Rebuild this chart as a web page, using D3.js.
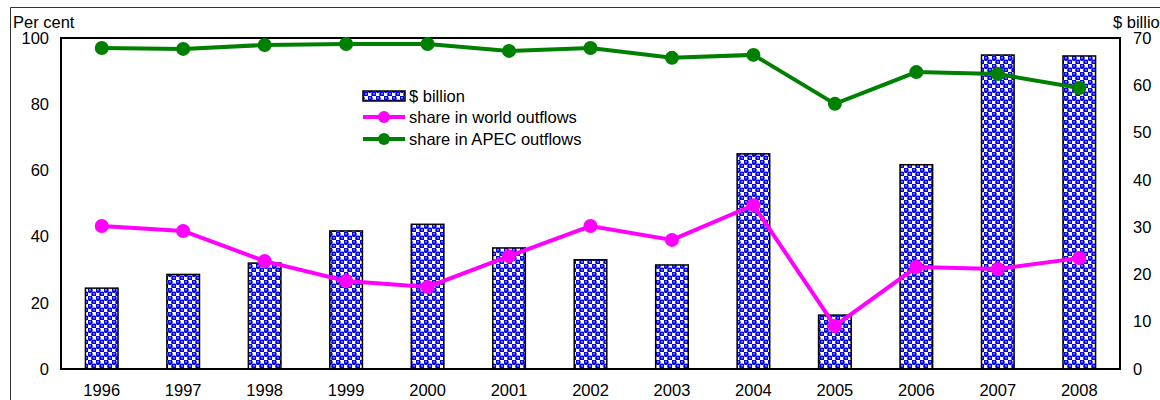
<!DOCTYPE html>
<html><head><meta charset="utf-8">
<script src="https://cdn.jsdelivr.net/npm/d3@7"></script>
<style>body{margin:0;background:#fff}svg{display:block;font-family:"Liberation Sans",Arial,sans-serif}</style>
</head><body><svg id="c" width="1160" height="400"></svg>
<script>
const years = ["1996","1997","1998","1999","2000","2001","2002","2003","2004","2005","2006","2007","2008"];
const billions = [17.1,20.0,22.4,29.2,30.6,25.6,23.1,22.0,45.5,11.4,43.2,66.4,66.2];
const worldShare = [43.2,41.7,32.6,26.6,24.8,34.1,43.2,39.0,49.5,13.0,30.8,30.2,33.5];
const apecShare = [97.0,96.7,97.9,98.2,98.2,96.1,97.0,94.0,94.9,80.1,89.7,89.1,84.9];
const leftTicks = [0,20,40,60,80,100];
const rightTicks = [0,10,20,30,40,50,60,70];
const seriesNames = ["$ billion","share in world outflows","share in APEC outflows"];

const FS = 16.5;
const svg = d3.select("#c");
const m = {l:61, t:38, r:1120, b:369};
const defs = svg.append("defs");
const pat = defs.append("pattern").attr("id","chk").attr("patternUnits","userSpaceOnUse")
  .attr("width",8).attr("height",8);
pat.append("rect").attr("width",8).attr("height",8).attr("fill","#ffffc0");
pat.append("rect").attr("x",0).attr("y",0).attr("width",4).attr("height",4).attr("fill","#0000ff");
pat.append("rect").attr("x",4).attr("y",4).attr("width",4).attr("height",4).attr("fill","#0000ff");
pat.append("circle").attr("cx",2).attr("cy",2.3).attr("r",2.7).attr("fill","#0000ff");
pat.append("circle").attr("cx",6).attr("cy",6.3).attr("r",2.7).attr("fill","#0000ff");
pat.append("rect").attr("x",1).attr("y",1.5).attr("width",2).attr("height",0.8).attr("fill","#ffffc0");
pat.append("rect").attr("x",5).attr("y",5.5).attr("width",2).attr("height",0.8).attr("fill","#ffffc0");

// outer frame
svg.append("path").attr("d","M10.5,400 V7.5 H1160").attr("fill","none").attr("stroke","#333").attr("stroke-width",1);

const x = d3.scaleBand().domain(years).range([m.l,m.r]).paddingInner(0.6).paddingOuter(0.3);
const xc = d => x(d) + x.bandwidth()/2;
const yL = d3.scaleLinear().domain([0,100]).range([m.b,m.t]);
const yR = d3.scaleLinear().domain([0,70]).range([m.b,m.t]);

// bars
svg.append("g").selectAll("rect").data(years).join("rect")
  .attr("x", d=>x(d)).attr("width", x.bandwidth())
  .attr("y",(d,i)=>yR(billions[i])).attr("height",(d,i)=>m.b-yR(billions[i]))
  .attr("fill","url(#chk)").attr("stroke","#000").attr("stroke-width",1.5);

// axes
const axL = svg.append("g").attr("transform",`translate(${m.l},0)`)
  .call(d3.axisLeft(yL).tickValues(leftTicks).tickSize(0).tickPadding(12));
const axR = svg.append("g").attr("transform",`translate(${m.r},0)`)
  .call(d3.axisRight(yR).tickValues(rightTicks).tickSize(0).tickPadding(13));
const axB = svg.append("g").attr("transform",`translate(0,${m.b})`)
  .call(d3.axisBottom(x).tickSize(0).tickPadding(15));
[axL,axR,axB].forEach(a=>{a.select(".domain").remove(); a.selectAll("text").attr("font-size",FS).attr("fill","#000").attr("font-family","Liberation Sans, Arial, sans-serif");});

// plot frame
svg.append("rect").attr("x",m.l).attr("y",m.t).attr("width",m.r-m.l).attr("height",m.b-m.t)
  .attr("fill","none").attr("stroke","#000").attr("stroke-width",2);

// lines
function drawLine(vals,color){
  const line = d3.line().x((d,i)=>xc(years[i])).y(d=>yL(d));
  svg.append("path").datum(vals).attr("d",line).attr("fill","none").attr("stroke",color).attr("stroke-width",4);
  svg.append("g").selectAll("circle").data(vals).join("circle")
    .attr("cx",(d,i)=>xc(years[i])).attr("cy",d=>yL(d)).attr("r",7).attr("fill",color);
}
drawLine(worldShare,"#ff00ff");
drawLine(apecShare,"#008000");

// axis titles
svg.append("text").attr("x",13).attr("y",28).attr("font-size",FS).text("Per cent");
svg.append("text").attr("x",1113).attr("y",28).attr("font-size",FS).text("$ billion");

// legend
const lg = svg.append("g");
lg.append("rect").attr("x",363).attr("y",91).attr("width",42).attr("height",10)
  .attr("fill","url(#chk)").attr("stroke","#000").attr("stroke-width",1.5);
lg.append("text").attr("x",409).attr("y",102).attr("font-size",FS).text(seriesNames[0]);
[["#ff00ff",117,seriesNames[1]],["#008000",139,seriesNames[2]]].forEach(([c,yy,t])=>{
  lg.append("line").attr("x1",363).attr("x2",405).attr("y1",yy).attr("y2",yy).attr("stroke",c).attr("stroke-width",4);
  lg.append("circle").attr("cx",384).attr("cy",yy).attr("r",6).attr("fill",c);
  lg.append("text").attr("x",409).attr("y",yy+6).attr("font-size",FS).text(t);
});
</script></body></html>
